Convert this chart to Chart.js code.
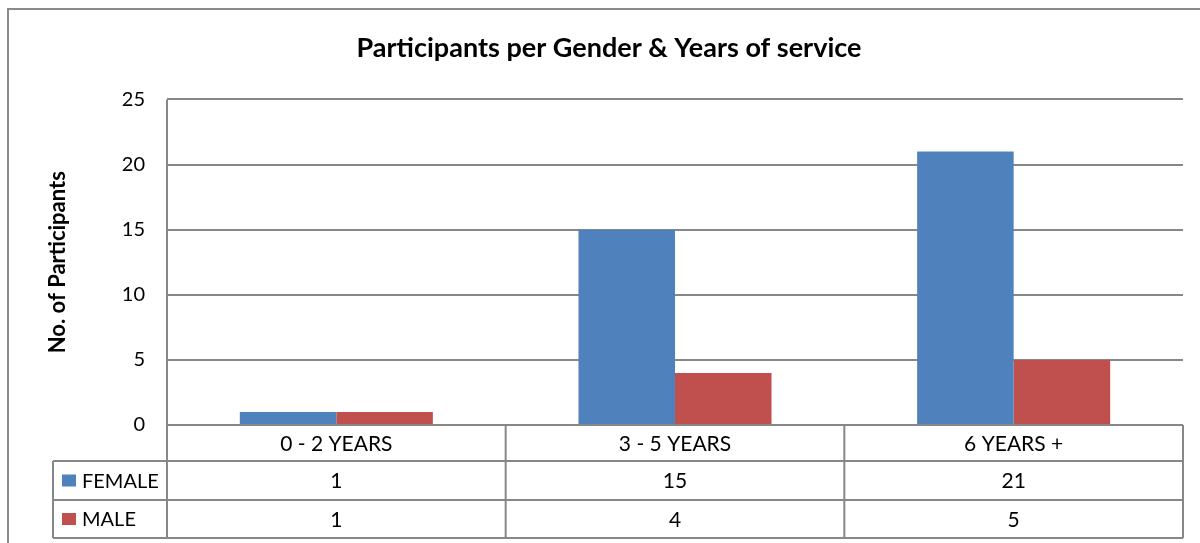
<!DOCTYPE html>
<html>
<head>
<meta charset="utf-8">
<script src="https://cdn.jsdelivr.net/npm/chart.js@4/dist/chart.umd.min.js"></script>
<style>
html,body{margin:0;padding:0;background:#fff;}
#wrap{width:1200px;height:543px;}
</style>
</head>
<body>
<div id="wrap"><canvas id="c" width="1200" height="543"></canvas></div>
<script>
const categories = ['0 - 2 YEARS', '3 - 5 YEARS', '6 YEARS +'];
const female = [1, 15, 21];
const male = [1, 4, 5];
const seriesNames = ['FEMALE', 'MALE'];
const yTicks = [0, 5, 10, 15, 20, 25];

const BLUE = '#4F81BD', RED = '#C0504D', GRID = '#878787';
const FONT = 'Lato, "Open Sans", sans-serif';

const tablePlugin = {
  id: 'tablePlugin',
  beforeDraw(chart) {
    const ctx = chart.ctx;
    ctx.save();
    ctx.fillStyle = '#fff';
    ctx.fillRect(0, 0, chart.width, chart.height);
    ctx.strokeStyle = '#8a8a8a';
    ctx.lineWidth = 2;
    ctx.beginPath();
    ctx.moveTo(8, chart.height + 5);
    ctx.lineTo(8, 9);
    ctx.lineTo(chart.width + 5, 9);
    ctx.stroke();
    ctx.restore();
  },
  afterDraw(chart) {
    const ctx = chart.ctx;
    const x = chart.scales.x, y = chart.scales.y;
    const area = chart.chartArea;
    const catW = (area.right - area.left) / categories.length;
    const y0 = y.getPixelForValue(0);
    const rowH = [36, 39, 38];
    const rows = [y0, y0 + rowH[0], y0 + rowH[0] + rowH[1], y0 + rowH[0] + rowH[1] + rowH[2]];
    const legLeft = 53;
    ctx.save();
    ctx.strokeStyle = GRID;
    ctx.lineWidth = 2;
    ctx.beginPath();
    ctx.moveTo(area.left, rows[0]); ctx.lineTo(area.right, rows[0]);
    for (let r = 1; r < rows.length; r++) {
      ctx.moveTo(legLeft, rows[r]); ctx.lineTo(area.right, rows[r]);
    }
    ctx.moveTo(area.left, area.top); ctx.lineTo(area.left, rows[3]);
    ctx.moveTo(legLeft, rows[1]); ctx.lineTo(legLeft, rows[3]);
    for (let i = 0; i < categories.length; i++) {
      const xr = x.getPixelForValue(i) + catW / 2;
      ctx.moveTo(xr, rows[0]); ctx.lineTo(xr, rows[3]);
    }
    ctx.stroke();

    ctx.fillStyle = '#000';
    ctx.font = '21px ' + FONT;
    ctx.textAlign = 'center';
    ctx.textBaseline = 'middle';
    categories.forEach((c, i) => {
      const cx = x.getPixelForValue(i);
      ctx.fillText(c, cx, (rows[0] + rows[1]) / 2 + 1);
      ctx.fillText(String(female[i]), cx, (rows[1] + rows[2]) / 2 + 1);
      ctx.fillText(String(male[i]), cx, (rows[2] + rows[3]) / 2 + 1);
    });
    const cols = [BLUE, RED];
    ctx.font = '20px ' + FONT;
    seriesNames.forEach((s, k) => {
      const cy = (rows[k + 1] + rows[k + 2]) / 2;
      ctx.fillStyle = cols[k];
      ctx.fillRect(62, cy - 6, 14, 12);
      ctx.fillStyle = '#000';
      ctx.textAlign = 'left';
      ctx.fillText(s, 82, cy + 1);
    });
    ctx.restore();
  }
};

new Chart(document.getElementById('c'), {
  type: 'bar',
  data: {
    labels: categories,
    datasets: [
      { label: seriesNames[0], data: female, backgroundColor: BLUE, borderWidth: 0 },
      { label: seriesNames[1], data: male, backgroundColor: RED, borderWidth: 0 }
    ]
  },
  options: {
    responsive: false,
    animation: false,
    devicePixelRatio: 1,
    layout: { padding: { left: 18, right: 0, top: 0, bottom: 0 } },
    datasets: { bar: { categoryPercentage: 0.57, barPercentage: 1.0 } },
    plugins: {
      legend: { display: false },
      tooltip: { enabled: false },
      title: {
        display: true,
        text: 'Participants per Gender & Years of service',
        color: '#000',
        font: { family: FONT, size: 27, weight: 'bold' },
        padding: { top: 32, bottom: 35 }
      }
    },
    scales: {
      x: {
        grid: { display: false, drawTicks: false },
        border: { display: false },
        ticks: { display: false },
        afterFit(s) { s.height = 118; }
      },
      y: {
        min: 0, max: 25,
        afterBuildTicks(s) { s.ticks = yTicks.map(v => ({ value: v })); },
        grid: { color: GRID, lineWidth: 2, drawTicks: false },
        border: { display: false },
        ticks: { color: '#000', padding: 22, font: { family: FONT, size: 20 } },
        title: {
          display: true,
          text: 'No. of Participants',
          color: '#000',
          font: { family: FONT, size: 22, weight: 'bold' },
          padding: { top: 27, bottom: 0 }
        },
        afterFit(s) { s.width = 149; }
      },
      yR: {
        position: 'right',
        min: 0, max: 1,
        grid: { display: false, drawTicks: false },
        border: { display: false },
        ticks: { display: false },
        afterFit(s) { s.width = 17; }
      }
    }
  },
  plugins: [tablePlugin]
});
</script>
</body>
</html>
